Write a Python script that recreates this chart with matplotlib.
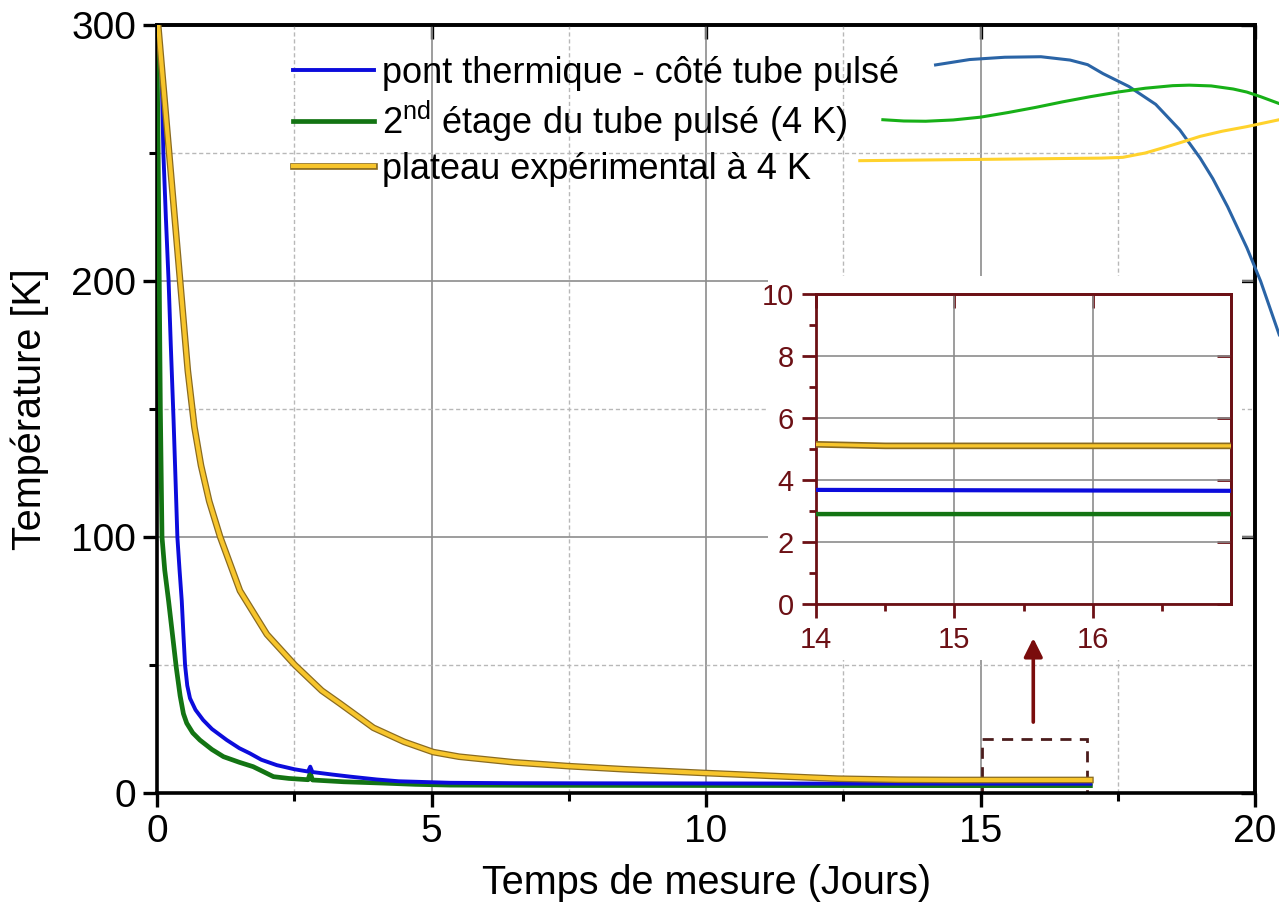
import matplotlib
matplotlib.use("Agg")
import matplotlib.pyplot as plt
import matplotlib.patheffects as pe
from matplotlib.patches import Rectangle

plt.rcParams['font.family'] = ['Liberation Sans', 'DejaVu Sans']
plt.rcParams['mathtext.fontset'] = 'custom'
plt.rcParams['mathtext.rm'] = 'Liberation Sans'

# time (days) / temperature (K)
t_blue = [0, 0.04, 0.08, 0.115, 0.16, 0.21, 0.25, 0.30, 0.34, 0.37, 0.41, 0.45,
          0.48, 0.51, 0.55, 0.60, 0.70, 0.84, 1.0, 1.27, 1.5, 1.69, 1.9, 2.18,
          2.5, 2.75, 2.79, 2.83, 3.2, 3.52, 4.0, 4.4, 5.34, 6.5, 8, 10, 12,
          14, 17]
T_blue = [300, 295, 285, 250, 225, 200, 175, 146, 120, 100, 87, 75,
          62, 50, 42, 37, 32.5, 28.5, 25, 20.7, 17.5, 15.5, 13, 10.9,
          9.3, 8.4, 10.3, 8.2, 7.2, 6.4, 5.3, 4.6, 4.0, 3.85, 3.8, 3.75, 3.7,
          3.68, 3.65]

t_green = [0, 0.02, 0.04, 0.06, 0.09, 0.14, 0.21, 0.28, 0.35, 0.42, 0.48,
           0.54, 0.65, 0.78, 1.0, 1.21, 1.5, 1.75, 1.95, 2.12, 2.4, 2.75,
           2.79, 2.83, 3.4, 4.1, 4.7, 5.34, 7, 10, 14, 17]
T_green = [290, 250, 200, 150, 100, 87, 75, 62, 49, 38, 31,
           27.3, 23.5, 20.7, 17, 14.2, 12, 10.3, 8.2, 6.4, 5.7, 5.2,
           7.8, 5.1, 4.4, 3.9, 3.4, 3.1, 3.0, 2.95, 2.9, 2.9]

t_yel = [0, 0.02, 0.22, 0.42, 0.56, 0.68, 0.80, 0.95, 1.15, 1.51, 2.0, 2.51,
         3.0, 3.33, 3.94, 4.5, 5.03, 5.5, 6.5, 7.5, 8.5, 10, 11.5, 12.4,
         13.5, 14.5, 17]
T_yel = [300, 300, 250, 200, 165, 143, 128, 114, 100, 79, 62, 50,
         40, 35, 25.5, 20, 16, 14.2, 12, 10.5, 9.3, 7.8, 6.4, 5.6,
         5.2, 5.1, 5.1]

# stray curves in the upper right corner
ts_blue = [14.18, 14.8, 15.44, 16.1, 16.63, 16.95, 17.23, 17.7, 18.19, 18.63,
           19.0, 19.23, 19.5, 19.85, 20.1, 20.44]
Ts_blue = [284.4, 286.5, 287.4, 287.6, 286.3, 284.5, 281, 276, 269, 259,
           248, 240, 229, 213, 200, 179]
ts_green = [13.22, 13.6, 14.0, 14.5, 15.0, 15.5, 16.0, 16.5, 17.0, 17.5, 18.0,
            18.5, 18.8, 19.2, 19.6, 19.85, 20.1, 20.44]
Ts_green = [263, 262.5, 262.4, 262.9, 264, 265.8, 267.8, 270, 272, 273.8,
            275.3, 276.3, 276.5, 276.2, 275, 273.8, 272, 269.3]
ts_yel = [12.8, 15.0, 17.2, 17.59, 18.0, 18.4, 18.63, 19.0, 19.4, 19.85, 20.44]
Ts_yel = [247, 247.5, 248, 248.3, 250, 252.5, 254, 256.5, 258.5, 260.3, 263]

labels = ['pont thermique - côté tube pulsé',
          '2$^{\\rm nd}$ étage du tube pulsé (4 K)',
          'plateau expérimental à 4 K']

c_blue = '#0c0cdc'
c_green = '#137413'
c_yel = '#f7c52c'
yel_edge = [pe.Stroke(linewidth=4.8, foreground='#8a6b20'), pe.Normal()]
maroon = '#6c1015'

fig = plt.figure(figsize=(12.79, 9.02), dpi=100)
ax = fig.add_axes([0.1228, 0.1208, 0.8585, 0.8515])

ax.plot(t_blue, T_blue, color=c_blue, lw=2.8, label=labels[0], zorder=4)
ax.plot(t_green, T_green, color=c_green, lw=3.4, label=labels[1], zorder=3)
ax.plot(t_yel, T_yel, color=c_yel, lw=3.0, label=labels[2], zorder=5,
        path_effects=yel_edge)

ax.plot(ts_blue, Ts_blue, color='#2a64a6', lw=2.2, clip_on=False, zorder=6)
ax.plot(ts_green, Ts_green, color='#17b017', lw=2.2, clip_on=False, zorder=6)
ax.plot(ts_yel, Ts_yel, color='#ffd22c', lw=2.2, clip_on=False, zorder=6)

ax.set_xlim(0, 20)
ax.set_ylim(0, 300)
ax.set_xticks([0, 5, 10, 15, 20])
ax.set_xticks([2.5, 7.5, 12.5, 17.5], minor=True)
ax.set_yticks([0, 100, 200, 300])
ax.set_yticks([50, 150, 250], minor=True)
ax.grid(which='major', color='#8c8c8c', lw=1.2)
ax.grid(which='minor', color='#b8b8b8', lw=1.0, ls=(0, (3, 2)))
ax.set_axisbelow(True)
for s in ax.spines.values():
    s.set_linewidth(2.6)
ax.tick_params(which='major', direction='out', length=10, width=2.4,
               labelsize=28, pad=5, top=False, right=False)
ax.tick_params(which='minor', direction='out', length=6, width=2.2,
               top=False, right=False)
ax.set_xlabel('Temps de mesure (Jours)', fontsize=28.5, labelpad=10)
ax.set_ylabel('Température [K]', fontsize=28.5, labelpad=16)

secx = ax.secondary_xaxis('top')
secx.set_xticks([0, 5, 10, 15, 20])
secx.tick_params(direction='in', length=10, width=2.4, labeltop=False)
secx.spines['top'].set_linewidth(2.6)
secy = ax.secondary_yaxis('right')
secy.set_yticks([0, 100, 200, 300])
secy.tick_params(direction='in', length=10, width=2.4, labelright=False)
secy.spines['right'].set_linewidth(2.6)

ax.legend(loc='upper left', bbox_to_anchor=(0.1239, 0.960), frameon=False,
          fontsize=26, handlelength=2.25, handletextpad=0.22,
          labelspacing=0.22, borderpad=0, borderaxespad=0)

# zoom box marker
ax.add_patch(Rectangle((15.03, 0), 1.91, 21, fill=False, ls=(0, (4, 3)),
                       lw=2.0, ec='#4b1c1c', zorder=2))

# white area behind the inset
fig.patches.append(Rectangle((768 / 1279, 1 - 660 / 902), (1242 - 768) / 1279,
                             (660 - 276) / 902, transform=fig.transFigure,
                             fc='white', ec='none', zorder=1))

ins = fig.add_axes([0.638, 0.3304, 0.3245, 0.3437])
ins.set_zorder(2)
ins.plot(t_blue, T_blue, color=c_blue, lw=3.0, zorder=4)
ins.plot(t_green, T_green, color=c_green, lw=3.2, zorder=3)
ins.plot(t_yel, T_yel, color=c_yel, lw=2.4, zorder=5, path_effects=yel_edge)
ins.set_xlim(14, 17)
ins.set_ylim(0, 10)
ins.set_xticks([14, 15, 16])
ins.set_xticks([14.5, 15.5, 16.5], minor=True)
ins.set_yticks([0, 2, 4, 6, 8, 10])
ins.set_yticks([1, 3, 5, 7, 9], minor=True)
ins.grid(which='major', color='#8c8c8c', lw=1.2)
ins.set_axisbelow(True)
for s in ins.spines.values():
    s.set_linewidth(2.0)
    s.set_color(maroon)
ins.tick_params(which='major', direction='out', length=10, width=2.0,
                labelsize=21, colors=maroon, pad=6, top=False, right=False)
ins.tick_params(which='minor', direction='out', length=5, width=2.0,
                colors=maroon, top=False, right=False)
isx = ins.secondary_xaxis('top')
isx.set_xticks([14, 15, 16])
isx.tick_params(direction='in', length=10, width=2.0, colors=maroon,
                labeltop=False)
isx.spines['top'].set_color(maroon)
isx.spines['top'].set_linewidth(2.0)
isy = ins.secondary_yaxis('right')
isy.set_yticks([0, 2, 4, 6, 8, 10])
isy.tick_params(direction='in', length=10, width=2.0, colors=maroon,
                labelright=False)
isy.spines['right'].set_color(maroon)
isy.spines['right'].set_linewidth(2.0)

ins.annotate('', xy=(15.96, 60.5), xytext=(15.96, 27.7),
             xycoords=ax.transData, textcoords=ax.transData,
             annotation_clip=False,
             arrowprops=dict(arrowstyle='-|>', color='#7a0c0c', lw=2.6,
                             mutation_scale=28, shrinkA=0, shrinkB=0))

fig.savefig('out.png', dpi=100)
